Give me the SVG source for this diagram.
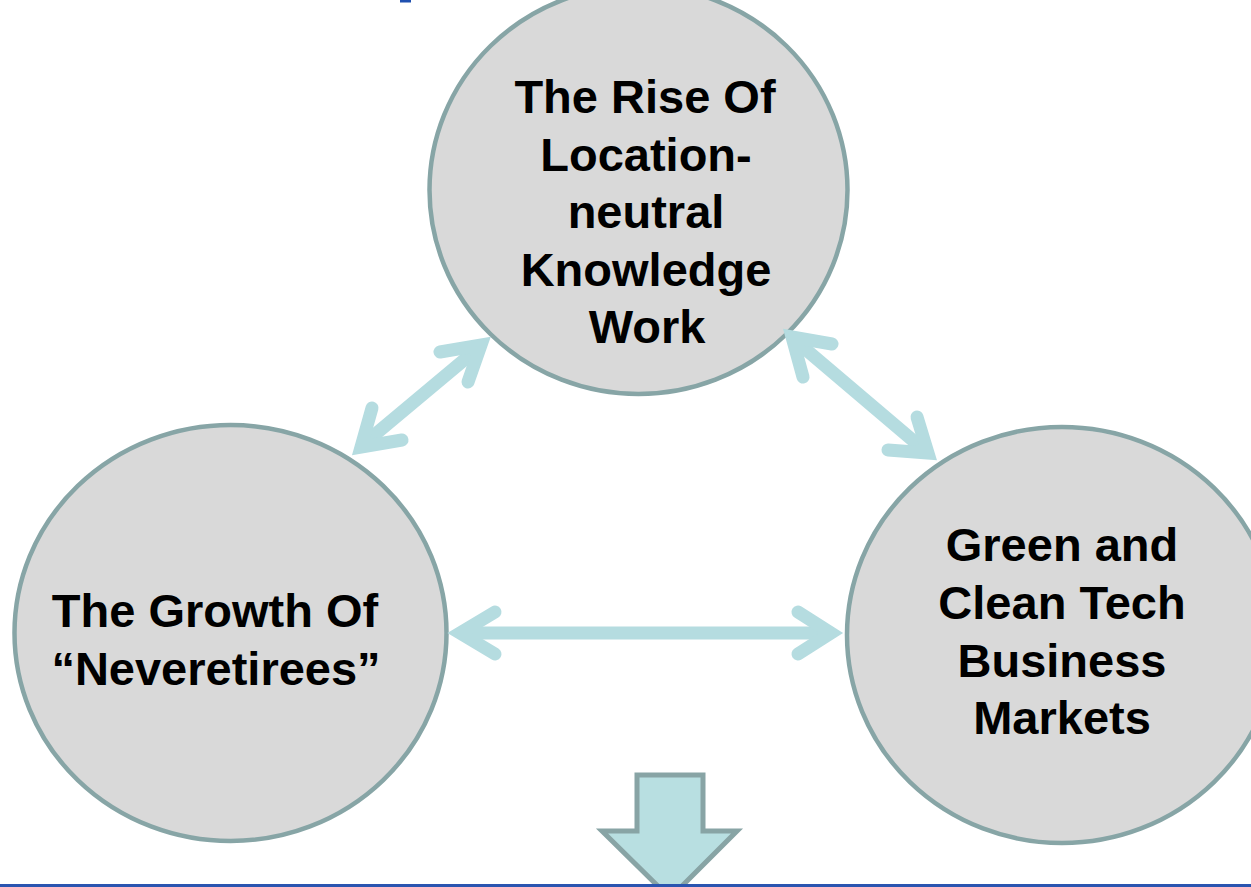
<svg xmlns="http://www.w3.org/2000/svg" width="1251" height="887" viewBox="0 0 1251 887">
<style>
.node{fill:#d9d9d9;stroke:#87a5a6;stroke-width:4.5}
.t{font-family:"Liberation Sans",Arial,sans-serif;font-weight:bold;font-size:47px;fill:#000;text-anchor:middle}
.c{fill:none;stroke:#b5dce0;stroke-width:13;stroke-linecap:round;stroke-linejoin:miter;stroke-miterlimit:10}
</style>
<rect width="1251" height="887" fill="#fff"/>
<rect x="400" y="0" width="11" height="2.5" fill="#2050b0"/>
<g id="node-top">
<ellipse class="node" cx="638.5" cy="190" rx="209" ry="204"/>
<text class="t" x="645" y="113">The Rise Of</text>
<text class="t" x="646" y="171">Location-</text>
<text class="t" x="646" y="228">neutral</text>
<text class="t" x="646" y="286">Knowledge</text>
<text class="t" x="647" y="343">Work</text>
</g>
<g id="node-left">
<ellipse class="node" cx="230.5" cy="633" rx="216" ry="208"/>
<text class="t" x="215" y="627">The Growth Of</text>
<text class="t" x="216" y="685">“Neveretirees”</text>
</g>
<g id="node-right">
<ellipse class="node" cx="1062" cy="635" rx="215" ry="208"/>
<text class="t" x="1062" y="561">Green and</text>
<text class="t" x="1062" y="619">Clean Tech</text>
<text class="t" x="1062" y="677">Business</text>
<text class="t" x="1062" y="734">Markets</text>
</g>
<g id="connectors">
<path class="c" d="M366 442 L476 350"/>
<polyline class="c" points="440,352 481,345 468,382"/>
<polyline class="c" points="372,408 361,447 402,440"/>
<path class="c" d="M797 342 L923 449"/>
<polyline class="c" points="832,344 792,337 803,377"/>
<polyline class="c" points="917,417 928,453 888,450"/>
<path class="c" d="M465 633 L826 633"/>
<polyline class="c" points="495,612 460,633 495,654"/>
<polyline class="c" points="798,612 831,633 798,654"/>
</g>
<g id="down-arrow">
<polygon points="637,775 703,775 703,831 737,831 670,898 602,831 637,831" fill="#b8dfe1" stroke="#88a4a5" stroke-width="5" stroke-linejoin="miter"/>
</g>
<rect x="0" y="884" width="1251" height="3" fill="#2a55b0"/>
</svg>
